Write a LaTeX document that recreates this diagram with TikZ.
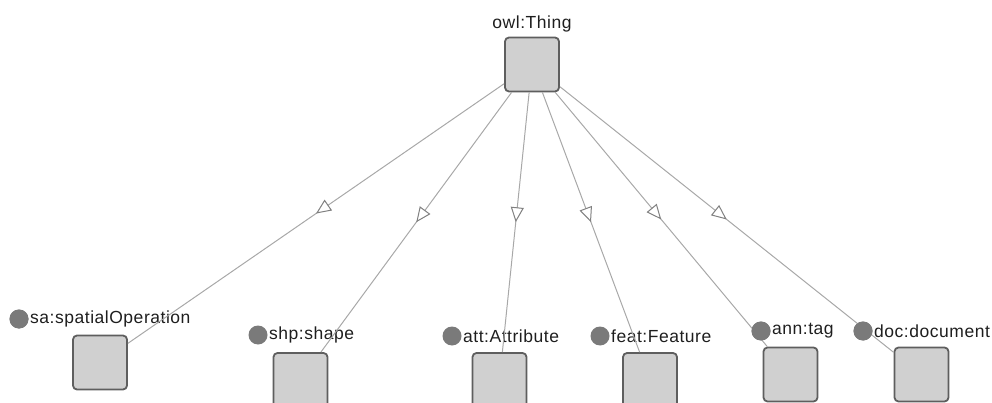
\documentclass[tikz,border=0pt]{standalone}
\usepackage{fontspec}
\setmainfont{Liberation Sans}[LetterSpace=3]
\usetikzlibrary{arrows.meta,decorations.markings}
\definecolor{boxfill}{HTML}{D0D0D0}
\definecolor{boxline}{HTML}{5E5E5E}
\definecolor{edgecol}{HTML}{A8A8A8}
\definecolor{dotcol}{HTML}{7A7A7A}
\definecolor{tipcol}{HTML}{808080}
\definecolor{txt}{HTML}{1E1E1E}
\tikzset{
  classbox/.style={draw=boxline, fill=boxfill, line width=1.8pt, rounded corners=4pt,
    minimum width=54pt, minimum height=54pt, inner sep=0pt},
  dot/.style={circle, fill=dotcol, inner sep=0pt, minimum size=19pt},
  lbl/.style={anchor=west, inner sep=0pt, text=txt, font=\fontsize{17.5}{20}\selectfont},
  toplbl/.style={inner sep=0pt, text=txt, font=\fontsize{17.5}{20}\selectfont},
  subedge/.style={draw=edgecol, line width=1pt, postaction={decorate},
    decoration={markings, mark=at position 0.5 with {\arrow{Triangle[length=15pt, width=13pt, fill=white, color=tipcol, line width=1pt]}}}}
}
\begin{document}
\begin{tikzpicture}[x=1pt, y=-1pt]
\useasboundingbox (0,0) rectangle (992,403);
\clip (0,0) rectangle (992,403);
% top node
\node[classbox] (thing) at (532,64.5) {};
\node[toplbl] (thingl) at (532,24) {owl:Thing};
% children
\node[classbox] (sa) at (100,362.5) {};
\node[dot] (sad) at (19,319) {};
\node[lbl] (sal) at (30,319) {sa:spatialOperation};

\node[classbox] (shp) at (300.5,380) {};
\node[dot] (shpd) at (258,335) {};
\node[lbl] (shpl) at (269,335) {shp:shape};

\node[classbox] (att) at (499.5,380) {};
\node[dot] (attd) at (452,336) {};
\node[lbl] (attl) at (463,336) {att:Attribute};

\node[classbox] (feat) at (650,380) {};
\node[dot] (featd) at (600,336) {};
\node[lbl] (featl) at (611,336) {feat:Feature};

\node[classbox] (ann) at (790.5,374.5) {};
\node[dot] (annd) at (761,331) {};
\node[lbl] (annl) at (772,331) {ann:tag};

\node[classbox] (doc) at (921.5,374.5) {};
\node[dot] (docd) at (863,331) {};
\node[lbl] (docl) at (874,331) {doc:document};

% edges
\draw[subedge] (thing) -- (sa);
\draw[subedge] (thing) -- (shp);
\draw[subedge] (thing) -- (att);
\draw[subedge] (thing) -- (feat);
\draw[subedge] (thing) -- (ann);
\draw[subedge] (thing) -- (doc);
% dots above edges
\node[dot] at (sad) {};
\node[dot] at (annd) {};
\node[dot] at (docd) {};
\end{tikzpicture}
\end{document}
